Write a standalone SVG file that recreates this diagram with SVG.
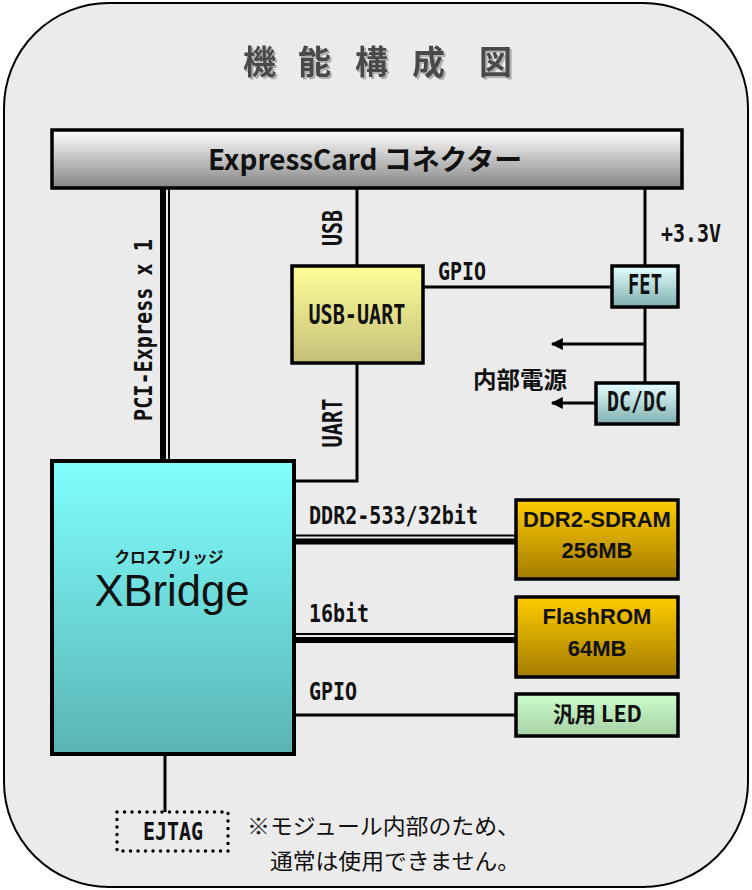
<svg xmlns="http://www.w3.org/2000/svg" width="752" height="890" viewBox="0 0 752 890">
<defs>
<linearGradient id="gBar" x1="0" y1="0" x2="0" y2="1"><stop offset="0" stop-color="#ffffff"/><stop offset="1" stop-color="#858585"/></linearGradient>
<linearGradient id="gX" x1="0" y1="0" x2="0" y2="1"><stop offset="0" stop-color="#80ffff"/><stop offset="1" stop-color="#5ab4b4"/></linearGradient>
<linearGradient id="gU" x1="0" y1="0" x2="0" y2="1"><stop offset="0" stop-color="#ffff99"/><stop offset="1" stop-color="#c4bf78"/></linearGradient>
<linearGradient id="gF" x1="0" y1="0" x2="0" y2="1"><stop offset="0" stop-color="#e6ffff"/><stop offset="1" stop-color="#7fb0b0"/></linearGradient>
<linearGradient id="gM" x1="0" y1="0" x2="0" y2="1"><stop offset="0" stop-color="#ffcc00"/><stop offset="1" stop-color="#a37c00"/></linearGradient>
<linearGradient id="gL" x1="0" y1="0" x2="0" y2="1"><stop offset="0" stop-color="#ccffcc"/><stop offset="1" stop-color="#a6cfa6"/></linearGradient>
<filter id="shadow" x="-20%" y="-20%" width="140%" height="140%"><feDropShadow dx="2" dy="2" stdDeviation="0.6" flood-color="#b0b0b0"/></filter>
<marker id="arr" viewBox="0 0 10 10" refX="9" refY="5" markerWidth="5" markerHeight="4" markerUnits="strokeWidth" orient="auto"><path d="M0,0 L10,5 L0,10 z" fill="#000"/></marker>
</defs>
<style>
.box{stroke:#000;stroke-width:3.5}
.ln{stroke:#000;stroke-width:3;fill:none}
.lbl{font-family:"DejaVu Sans Mono","Liberation Mono",monospace;font-weight:bold;font-size:24px;fill:#111}
.big{font-family:"DejaVu Sans Mono","Liberation Mono",monospace;font-weight:bold;font-size:26px;fill:#111}
.mem{font-family:"Liberation Sans","Noto Sans CJK JP",sans-serif;font-weight:bold;font-size:22px;fill:#111;text-anchor:middle}
.jp{font-family:"Noto Sans CJK JP",sans-serif;font-weight:bold;fill:#111}
.note{font-family:"Noto Sans CJK JP",sans-serif;font-size:22px;fill:#111}
.title{font-family:"Noto Sans CJK JP",sans-serif;font-weight:bold;font-size:33px;fill:#4a4a4a}
</style>
<rect x="4" y="3" width="744" height="884" rx="105" ry="105" fill="#ebebeb" stroke="#000" stroke-width="2"/>
<g id="title" filter="url(#shadow)">
<text class="title" x="243 298 355 412 479" y="74">機能構成図</text>
</g>
<g id="connectors">
<line x1="163" y1="188" x2="163" y2="461" stroke="#000" stroke-width="6"/>
<line x1="169" y1="188" x2="169" y2="461" stroke="#000" stroke-width="2"/>
<line class="ln" x1="357" y1="188" x2="357" y2="266"/>
<polyline class="ln" points="357,363 357,481 294,481"/>
<line class="ln" x1="423" y1="287" x2="612" y2="287"/>
<line class="ln" x1="645" y1="188" x2="645" y2="266"/>
<line class="ln" x1="645" y1="307" x2="645" y2="383"/>
<line class="ln" x1="645" y1="344" x2="552" y2="344" marker-end="url(#arr)"/>
<line class="ln" x1="596" y1="403" x2="552" y2="403" marker-end="url(#arr)"/>
<line x1="294" y1="535.5" x2="516" y2="535.5" stroke="#000" stroke-width="2"/>
<line x1="294" y1="541.5" x2="516" y2="541.5" stroke="#000" stroke-width="6"/>
<line x1="294" y1="634" x2="516" y2="634" stroke="#000" stroke-width="2"/>
<line x1="294" y1="640" x2="516" y2="640" stroke="#000" stroke-width="6"/>
<line class="ln" x1="294" y1="715" x2="516" y2="715"/>
<line class="ln" x1="165" y1="754" x2="165" y2="812"/>
<text class="lbl" transform="translate(152,330) rotate(-90)" text-anchor="middle" textLength="182" lengthAdjust="spacingAndGlyphs">PCI-Express x 1</text>
<text class="big" transform="translate(342,228) rotate(-90)" text-anchor="middle" textLength="36" lengthAdjust="spacingAndGlyphs">USB</text>
<text class="big" transform="translate(342,423) rotate(-90)" text-anchor="middle" textLength="49" lengthAdjust="spacingAndGlyphs">UART</text>
<text class="lbl" x="438" y="280" textLength="48" lengthAdjust="spacingAndGlyphs">GPIO</text>
<text class="lbl" x="661" y="242" textLength="60" lengthAdjust="spacingAndGlyphs">+3.3V</text>
<text class="jp" x="473" y="388" font-size="23" textLength="94" lengthAdjust="spacingAndGlyphs">内部電源</text>
<text class="lbl" x="309" y="524" textLength="169" lengthAdjust="spacingAndGlyphs">DDR2-533/32bit</text>
<text class="lbl" x="309" y="622" textLength="60" lengthAdjust="spacingAndGlyphs">16bit</text>
<text class="lbl" x="309" y="700" textLength="48" lengthAdjust="spacingAndGlyphs">GPIO</text>
</g>
<g id="connector-bar">
<rect class="box" x="52" y="130" width="630" height="58" fill="url(#gBar)"/>
<text class="jp" x="208" y="170" font-size="28" textLength="314" lengthAdjust="spacingAndGlyphs">ExpressCard コネクター</text>
</g>
<g id="usb-uart">
<rect class="box" x="292" y="266" width="131" height="97" fill="url(#gU)"/>
<text class="big" x="357" y="324" text-anchor="middle" textLength="97" lengthAdjust="spacingAndGlyphs">USB-UART</text>
</g>
<g id="fet">
<rect class="box" x="612" y="266" width="66" height="41" fill="url(#gF)"/>
<text class="big" x="645" y="294" text-anchor="middle" textLength="34" lengthAdjust="spacingAndGlyphs">FET</text>
</g>
<g id="dcdc">
<rect class="box" x="596" y="383" width="82" height="41" fill="url(#gF)"/>
<text class="big" x="637" y="411" text-anchor="middle" textLength="60" lengthAdjust="spacingAndGlyphs">DC/DC</text>
</g>
<g id="xbridge">
<rect x="52" y="461" width="242" height="293" fill="url(#gX)" stroke="#000" stroke-width="4"/>
<text class="jp" x="169" y="563" font-size="16" text-anchor="middle" textLength="109" lengthAdjust="spacingAndGlyphs">クロスブリッジ</text>
<text x="172" y="606" font-family="'Liberation Sans',sans-serif" font-size="44" text-anchor="middle" fill="#111" textLength="155" lengthAdjust="spacingAndGlyphs">XBridge</text>
</g>
<g id="ddr2">
<rect class="box" x="516" y="500" width="162" height="79" fill="url(#gM)"/>
<text class="mem" x="597" y="527">DDR2-SDRAM</text>
<text class="mem" x="597" y="558">256MB</text>
</g>
<g id="flash">
<rect class="box" x="516" y="597" width="162" height="80" fill="url(#gM)"/>
<text class="mem" x="597" y="624">FlashROM</text>
<text class="mem" x="597" y="656">64MB</text>
</g>
<g id="led">
<rect class="box" x="516" y="694" width="162" height="42" fill="url(#gL)"/>
<text class="jp" x="553" y="722" font-size="22" textLength="89" lengthAdjust="spacingAndGlyphs">汎用 LED</text>
</g>
<g id="ejtag">
<rect x="117" y="812" width="111" height="39" fill="none" stroke="#000" stroke-width="3.5" stroke-linecap="round" stroke-dasharray="0 7.5"/>
<text class="lbl" x="173" y="840" text-anchor="middle" textLength="60" lengthAdjust="spacingAndGlyphs">EJTAG</text>
</g>
<g id="note">
<text class="note" x="247" y="834" textLength="273" lengthAdjust="spacingAndGlyphs">※モジュール内部のため、</text>
<text class="note" x="270" y="869" textLength="250" lengthAdjust="spacingAndGlyphs">通常は使用できません。</text>
</g>
</svg>
